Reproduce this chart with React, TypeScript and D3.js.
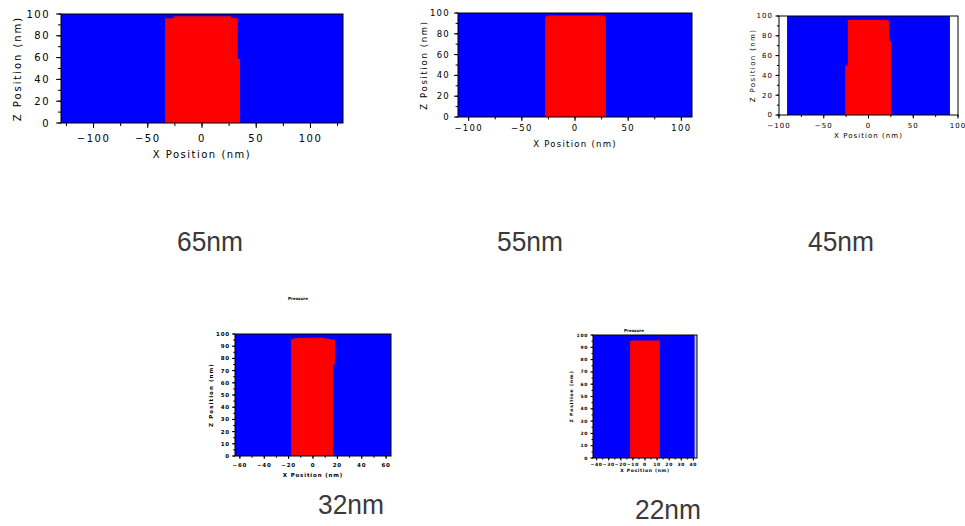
import React from 'react';
import * as d3 from 'd3';

// technology nodes, one panel each
const nodes = ['65nm', '55nm', '45nm', '32nm', '22nm'];

// x range of each panel (nm)
const xDomains = [[-130, 130], [-110, 110], [-100, 100], [-64, 64], [-43, 43]];
const xMajorTicks = [
  [-100, -50, 0, 50, 100],
  [-100, -50, 0, 50, 100],
  [-100, -50, 0, 50, 100],
  [-60, -40, -20, 0, 20, 40, 60],
  [-40, -30, -20, -10, 0, 10, 20, 30, 40],
];
const xMinorStep = [25, 25, 25, 10, 5];
const zMajorTicks = [
  [0, 20, 40, 60, 80, 100],
  [0, 20, 40, 60, 80, 100],
  [0, 20, 40, 60, 80, 100],
  [0, 10, 20, 30, 40, 50, 60, 70, 80, 90, 100],
  [0, 10, 20, 30, 40, 50, 60, 70, 80, 90, 100],
];
const zMinorStep = [10, 10, 10, 5, 5];

// blue background extent along x (nm)
const blueExtent = [[-130, 130], [-110, 110], [-91, 91], [-64, 64], [-43, 41]];

// red profile outlines, [x nm, z nm]
const profile65 = [[-34, 0], [-34, 96], [-26, 96], [-26, 98], [27, 98], [27, 96.5], [33, 96], [33, 59], [35, 59], [35, 0]];
const profile55 = [[-28, 0], [-28, 96], [-26, 97.5], [27, 97.5], [29, 96], [29, 0]];
const profile45 = [[-26, 0], [-26, 50], [-23, 50], [-23, 96], [21, 96], [23, 95], [23, 75], [25.5, 75], [25.5, 0]];
const profile32 = [[-18, 0], [-18, 95.5], [-15, 96.5], [-5, 97], [8, 97], [13, 96], [18, 95], [18, 75], [16.5, 75], [16.5, 0]];
const profile22 = [[-12.3, 0], [-12.3, 95], [-11, 95.5], [10, 95.5], [12, 96], [12.3, 94], [12.3, 1], [13, 0]];
const profiles = [profile65, profile55, profile45, profile32, profile22];

const xTitle = 'X Position (nm)';
const zTitle = 'Z Position (nm)';
const tinyTitle = 'Pressure';

// panel placement
const layout = [
  { x0: 61, x1: 343, y0: 14, y1: 123, fs: 10, yGap: 11, xLab: 19, xTit: 35, yTit: 40, tk: 5, label: [177, 251] },
  { x0: 458, x1: 692, y0: 13, y1: 117, fs: 8.5, yGap: 8, xLab: 14, xTit: 30, yTit: 31, tk: 4, label: [497, 251] },
  { x0: 779, x1: 958, y0: 16, y1: 115, fs: 7, yGap: 6, xLab: 13, xTit: 23, yTit: 24, tk: 3.5, label: [808, 251] },
  { x0: 235, x1: 391, y0: 334, y1: 456, fs: 5.5, yGap: 5, xLab: 11, xTit: 21, yTit: 22, tk: 3, label: [318, 514], tiny: [298, 300] },
  { x0: 593, x1: 697, y0: 335, y1: 458, fs: 4.5, yGap: 5, xLab: 8, xTit: 14, yTit: 20, tk: 2.5, label: [635, 519], tiny: [634, 332] },
];

function Panel({ i }: { i: number }) {
  const L = layout[i];
  const x = d3.scaleLinear().domain(xDomains[i]).range([L.x0, L.x1]);
  const y = d3.scaleLinear().domain([0, 100]).range([L.y1, L.y0]);
  const outline = d3.line<number[]>().x(d => x(d[0])).y(d => y(d[1]));
  const [dx0, dx1] = xDomains[i];
  const xMinor = d3.range(Math.ceil(dx0 / xMinorStep[i]) * xMinorStep[i], dx1 + 0.01, xMinorStep[i]);
  const zMinor = d3.range(0, 100.01, zMinorStep[i]);
  const ls = L.fs * 0.15;
  const font = 'DejaVu Sans, sans-serif';
  const weight = L.fs < 6 ? 'bold' : 'normal';
  const [b0, b1] = blueExtent[i];

  return (
    <g>
      <rect x={L.x0} y={L.y0} width={L.x1 - L.x0} height={L.y1 - L.y0} fill={i === 4 ? '#c4c4d8' : '#fff'} />
      <rect x={x(b0)} y={y(100)} width={x(b1) - x(b0)} height={y(0) - y(100)} fill="#0000ff" />
      <path d={outline(profiles[i]) + 'Z'} fill="#ff0000" />
      <rect x={L.x0} y={L.y0} width={L.x1 - L.x0} height={L.y1 - L.y0} fill="none" stroke="#000" strokeWidth={1} />

      {xMinor.map(t => (
        <line key={'xm' + t} x1={x(t)} x2={x(t)} y1={L.y1} y2={L.y1 + L.tk * 0.6} stroke="#000" />
      ))}
      {xMajorTicks[i].map(t => (
        <g key={'x' + t}>
          <line x1={x(t)} x2={x(t)} y1={L.y1} y2={L.y1 + L.tk} stroke="#000" />
          <text x={x(t)} y={L.y1 + L.xLab} fontSize={L.fs} fontFamily={font} fontWeight={weight} letterSpacing={ls} textAnchor="middle">
            {t < 0 ? '\u2212' + Math.abs(t) : t}
          </text>
        </g>
      ))}
      {zMinor.map(t => (
        <line key={'zm' + t} x1={L.x0} x2={L.x0 - L.tk * 0.6} y1={y(t)} y2={y(t)} stroke="#000" />
      ))}
      {zMajorTicks[i].map(t => (
        <g key={'z' + t}>
          <line x1={L.x0} x2={L.x0 - L.tk} y1={y(t)} y2={y(t)} stroke="#000" />
          <text x={L.x0 - L.yGap} y={y(t)} dy="0.35em" fontSize={L.fs} fontFamily={font} fontWeight={weight} letterSpacing={ls} textAnchor="end">
            {t}
          </text>
        </g>
      ))}

      <text x={(L.x0 + L.x1) / 2} y={L.y1 + L.xTit} fontSize={L.fs} fontFamily={font} fontWeight={weight} letterSpacing={ls} textAnchor="middle">
        {xTitle}
      </text>
      <text
        transform={`translate(${L.x0 - L.yTit},${(L.y0 + L.y1) / 2}) rotate(-90)`}
        fontSize={L.fs}
        fontFamily={font}
        fontWeight={weight}
        letterSpacing={ls * 1.3}
        textAnchor="middle"
      >
        {zTitle}
      </text>
      {L.tiny && (
        <text x={L.tiny[0]} y={L.tiny[1]} fontSize={4} fontFamily={font} fontWeight="bold" textAnchor="middle">
          {tinyTitle}
        </text>
      )}
      <text
        x={L.label[0]}
        y={L.label[1]}
        fontSize={28}
        fontFamily="Liberation Sans, Arial, sans-serif"
        fill="#3a3a3a"
        textLength={66}
        lengthAdjust="spacingAndGlyphs"
      >
        {nodes[i]}
      </text>
    </g>
  );
}

export default function App() {
  return (
    <div style={{ position: 'absolute', left: 0, top: 0 }}>
      <svg width={965} height={526} style={{ display: 'block', background: '#fff' }}>
        {nodes.map((n, i) => (
          <Panel key={n} i={i} />
        ))}
      </svg>
    </div>
  );
}
